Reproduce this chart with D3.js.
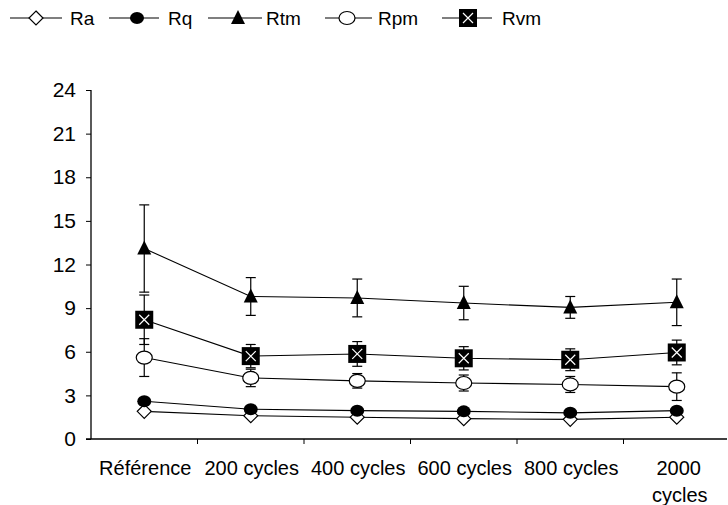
<!DOCTYPE html>
<html><head><meta charset="utf-8">
<script src="https://cdn.jsdelivr.net/npm/d3@7/dist/d3.min.js"></script>
<style>body{margin:0;background:#fff;}svg{display:block;font-family:"Liberation Sans",Arial,sans-serif;}</style>
</head><body>
<script>
const categories = ["Référence","200 cycles","400 cycles","600 cycles","800 cycles","2000 cycles"];
const yTicks = [0,3,6,9,12,15,18,21,24];
const seriesNames = ["Ra","Rq","Rtm","Rpm","Rvm"];
const Ra  = [1.9, 1.6, 1.5, 1.4, 1.35, 1.5];
const Rq  = [2.6, 2.05, 1.95, 1.9, 1.8, 1.95];
const Rtm = [13.1, 9.8, 9.7, 9.35, 9.05, 9.4];
const Rpm = [5.6, 4.2, 4.0, 3.85, 3.75, 3.6];
const Rvm = [8.2, 5.7, 5.85, 5.55, 5.45, 5.95];
const RtmErr = [3.0, 1.3, 1.3, 1.15, 0.75, 1.6];
const RpmErr = [1.3, 0.6, 0.5, 0.55, 0.55, 0.95];
const RvmErr = [1.7, 0.8, 0.85, 0.8, 0.75, 0.85];

const W = 728, H = 505;
const svg = d3.select("body").append("svg").attr("width", W).attr("height", H);
const x = d3.scaleBand().domain(categories).range([91, 730]);
const y = d3.scaleLinear().domain([0, 24]).range([439, 90]);

// axes
const yAxis = d3.axisLeft(y).tickValues(yTicks).tickSize(5).tickPadding(10);
const gy = svg.append("g").attr("transform", "translate(91,0)").call(yAxis);
gy.attr("font-family", null).attr("font-size", null);
gy.select(".domain").attr("d", "M0,90V439").attr("stroke", "#000").attr("stroke-width", 1.3);
gy.selectAll(".tick line").attr("stroke", "#000");
gy.selectAll(".tick text").attr("font-size", 21).style("font-size", "21px").attr("fill", "#000");

svg.append("line").attr("x1", 86).attr("x2", 727).attr("y1", 439).attr("y2", 439).attr("stroke", "#000").attr("stroke-width", 1.3);
categories.forEach((c, i) => {
  if (i > 0) svg.append("line").attr("x1", x(c)).attr("x2", x(c)).attr("y1", 439).attr("y2", 444).attr("stroke", "#000");
});
categories.forEach((c, i) => {
  const cx = x(c) + x.bandwidth() / 2;
  if (c === "2000 cycles") {
    svg.append("text").attr("x", cx + 2).attr("y", 475).attr("text-anchor", "middle").style("font-size", "20px").text("2000");
    svg.append("text").attr("x", cx + 3).attr("y", 502).attr("text-anchor", "middle").style("font-size", "20px").text("cycles");
  } else {
    svg.append("text").attr("x", cx + 1).attr("y", 475).attr("text-anchor", "middle").style("font-size", "20px").text(c);
  }
});

const cxOf = i => x(categories[i]) + x.bandwidth() / 2;
const data = {Ra, Rq, Rtm, Rpm, Rvm};
const errs = {Rtm: RtmErr, Rpm: RpmErr, Rvm: RvmErr};

// error bars
Object.keys(errs).forEach(k => {
  data[k].forEach((v, i) => {
    const e = errs[k][i], cx = cxOf(i);
    const g = svg.append("g").attr("stroke", "#000").attr("stroke-width", 1.2);
    g.append("line").attr("x1", cx).attr("x2", cx).attr("y1", y(v + e)).attr("y2", y(v - e));
    g.append("line").attr("x1", cx - 5).attr("x2", cx + 5).attr("y1", y(v + e)).attr("y2", y(v + e));
    g.append("line").attr("x1", cx - 5).attr("x2", cx + 5).attr("y1", y(v - e)).attr("y2", y(v - e));
  });
});

// lines
const line = d3.line().x((d, i) => cxOf(i)).y(d => y(d));
seriesNames.forEach(k => {
  svg.append("path").attr("d", line(data[k])).attr("fill", "none").attr("stroke", "#000").attr("stroke-width", 1.1);
});

function marker(g, type, cx, cy) {
  if (type === "Ra") {
    g.append("path").attr("d", `M${cx},${cy-7}L${cx+7},${cy}L${cx},${cy+7}L${cx-7},${cy}Z`).attr("fill", "#fff").attr("stroke", "#000").attr("stroke-width", 1.2);
  } else if (type === "Rq") {
    g.append("ellipse").attr("cx", cx).attr("cy", cy).attr("rx", 7).attr("ry", 6).attr("fill", "#000");
  } else if (type === "Rtm") {
    g.append("path").attr("d", `M${cx},${cy-8}L${cx+7},${cy+6}L${cx-7},${cy+6}Z`).attr("fill", "#000");
  } else if (type === "Rpm") {
    g.append("ellipse").attr("cx", cx).attr("cy", cy).attr("rx", 8).attr("ry", 6.5).attr("fill", "#fff").attr("stroke", "#000").attr("stroke-width", 1.2);
  } else if (type === "Rvm") {
    g.append("rect").attr("x", cx - 9).attr("y", cy - 9).attr("width", 18).attr("height", 18).attr("fill", "#000");
    g.append("path").attr("d", `M${cx-5},${cy-5}L${cx+5},${cy+5}M${cx+5},${cy-5}L${cx-5},${cy+5}`).attr("stroke", "#fff").attr("stroke-width", 1.2);
  }
}

["Ra","Rq","Rpm","Rvm","Rtm"].forEach(k => {
  const g = svg.append("g");
  data[k].forEach((v, i) => marker(g, k, cxOf(i), y(v)));
});

// legend
const legend = [
  {k: "Ra", x1: 10, x2: 62, m: 36, t: 70},
  {k: "Rq", x1: 109, x2: 159, m: 137, t: 168},
  {k: "Rtm", x1: 208, x2: 262, m: 238, t: 266},
  {k: "Rpm", x1: 325, x2: 372, m: 347, t: 378},
  {k: "Rvm", x1: 442, x2: 492, m: 468, t: 502}
];
legend.forEach(l => {
  const g = svg.append("g");
  g.append("line").attr("x1", l.x1).attr("x2", l.x2).attr("y1", 18).attr("y2", 18).attr("stroke", "#000").attr("stroke-width", 1.1);
  marker(g, l.k, l.m, 18);
  g.append("text").attr("x", l.t).attr("y", 25).style("font-size", "19px").text(l.k);
});
</script>
</body></html>
